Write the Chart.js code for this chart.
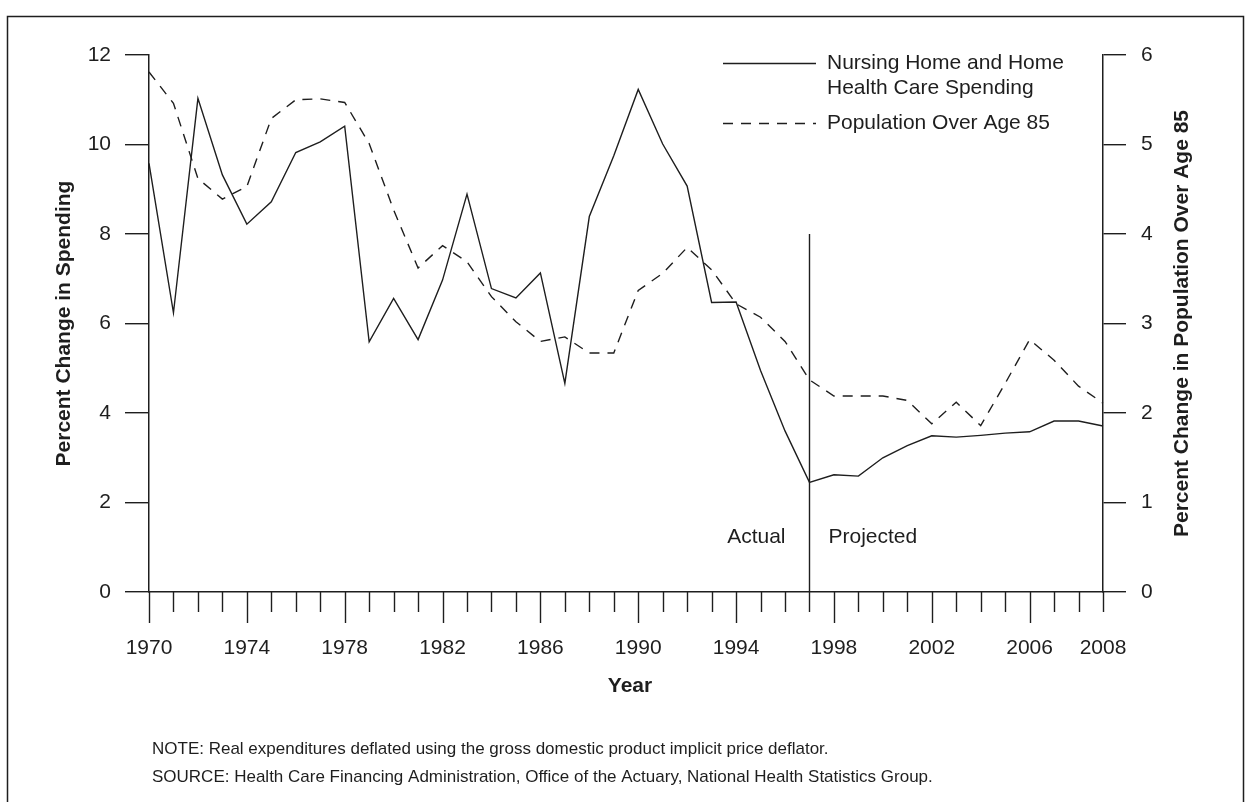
<!DOCTYPE html>
<html>
<head>
<meta charset="utf-8">
<script src="https://cdn.jsdelivr.net/npm/chart.js@4.4.1/dist/chart.umd.min.js"></script>
<style>
  html, body { margin: 0; padding: 0; background: #fff; }
  canvas { display: block; }
</style>
</head>
<body>
<canvas id="chart" width="1250" height="802"></canvas>
<script>
// x axis: one slot per year, only some are labelled (last slot is labelled 2008 in the original)
const tickLabels = ['1970', '', '', '', '1974', '', '', '', '1978', '', '', '', '1982', '', '', '', '1986', '', '', '',
  '1990', '', '', '', '1994', '', '', '', '1998', '', '', '', '2002', '', '', '', '2006', '', '', '2008'];

// percent change in real nursing home + home health spending (left axis)
const spending = [9.58, 6.24, 11.03, 9.32, 8.22, 8.72, 9.82, 10.06, 10.41, 5.59,
  6.56, 5.64, 6.97, 8.89, 6.78, 6.57, 7.13, 4.66, 8.39, 9.75,
  11.23, 10.01, 9.07, 6.47, 6.48, 4.95, 3.6, 2.45, 2.62, 2.59,
  3.0, 3.27, 3.49, 3.46, 3.5, 3.55, 3.58, 3.82, 3.82, 3.71];

// percent change in population over age 85 (right axis)
const population = [5.81, 5.46, 4.62, 4.39, 4.53, 5.29, 5.50, 5.51, 5.47, 5.01,
  4.27, 3.62, 3.87, 3.69, 3.30, 3.02, 2.80, 2.85, 2.67, 2.67,
  3.37, 3.56, 3.85, 3.60, 3.22, 3.07, 2.80, 2.37, 2.19, 2.19,
  2.19, 2.14, 1.88, 2.12, 1.86, 2.33, 2.82, 2.59, 2.30, 2.11];

const seriesNames = ['Nursing Home and Home|Health Care Spending', 'Population Over Age 85'];

// actual / projected split
const firstYear = 1970;
const dividerYear = 1997;
const dividerTop = 8;

const INK = '#1e1e1e';
const FONT = '"Liberation Sans", Arial, Helvetica, sans-serif';

// draws the things Chart.js doesn't do out of the box (mixed tick lengths, legend, titles, notes)
const extras = {
  id: 'extras',
  afterDraw(chart) {
    const ctx = chart.ctx;
    const xs = chart.scales.x;
    const ys = chart.scales.y;
    const area = chart.chartArea;
    ctx.save();
    ctx.strokeStyle = INK;
    ctx.fillStyle = INK;
    ctx.lineWidth = 1.4;

    // x ticks, long every 4 years
    tickLabels.forEach((lab, i) => {
      const px = Math.round(xs.getPixelForValue(i)) + 0.5;
      const len = (i % 4 === 0) ? 31 : 20;
      ctx.beginPath();
      ctx.moveTo(px, area.bottom);
      ctx.lineTo(px, area.bottom + len);
      ctx.stroke();
    });

    // divider line between actual and projected
    const dx = Math.round(xs.getPixelForValue(dividerYear - firstYear)) + 0.5;
    ctx.beginPath();
    ctx.moveTo(dx, ys.getPixelForValue(0));
    ctx.lineTo(dx, ys.getPixelForValue(dividerTop));
    ctx.stroke();

    ctx.font = '21px ' + FONT;
    ctx.textBaseline = 'middle';
    ctx.textAlign = 'right';
    ctx.fillText('Actual', dx - 24, 537);
    ctx.textAlign = 'left';
    ctx.fillText('Projected', dx + 19, 537);

    // legend
    ctx.beginPath();
    ctx.moveTo(723, 63.5);
    ctx.lineTo(816, 63.5);
    ctx.stroke();
    ctx.setLineDash([10, 8]);
    ctx.beginPath();
    ctx.moveTo(723, 123.5);
    ctx.lineTo(816, 123.5);
    ctx.stroke();
    ctx.setLineDash([]);
    const lines = seriesNames[0].split('|');
    ctx.fillText(lines[0], 827, 63);
    ctx.fillText(lines[1], 827, 88);
    ctx.fillText(seriesNames[1], 827, 123);

    // axis titles
    const cy = (area.top + area.bottom) / 2;
    ctx.font = 'bold 21px ' + FONT;
    ctx.textAlign = 'center';
    ctx.textBaseline = 'alphabetic';
    ctx.save();
    ctx.translate(70, cy);
    ctx.rotate(-Math.PI / 2);
    ctx.fillText('Percent Change in Spending', 0, 0);
    ctx.restore();
    ctx.save();
    ctx.translate(1188, cy);
    ctx.rotate(-Math.PI / 2);
    ctx.fillText('Percent Change in Population Over Age 85', 0, 0);
    ctx.restore();
    ctx.fillText('Year', 630, 692);

    // notes
    ctx.font = '17px ' + FONT;
    ctx.textAlign = 'left';
    ctx.fillText('NOTE: Real expenditures deflated using the gross domestic product implicit price deflator.', 152, 754);
    ctx.fillText('SOURCE: Health Care Financing Administration, Office of the Actuary, National Health Statistics Group.', 152, 782);

    // frame
    ctx.lineWidth = 1.5;
    ctx.beginPath();
    ctx.moveTo(7.5, 802);
    ctx.lineTo(7.5, 16.5);
    ctx.lineTo(1243.5, 16.5);
    ctx.lineTo(1243.5, 802);
    ctx.stroke();
    ctx.restore();
  }
};

const axisFont = { family: FONT, size: 21 };

new Chart(document.getElementById('chart'), {
  type: 'line',
  data: {
    labels: tickLabels,
    datasets: [{
      label: 'Nursing Home and Home Health Care Spending',
      data: spending,
      yAxisID: 'y',
      borderColor: INK,
      borderWidth: 1.4,
      pointRadius: 0,
      tension: 0
    }, {
      label: 'Population Over Age 85',
      data: population,
      yAxisID: 'y2',
      borderColor: INK,
      borderWidth: 1.4,
      borderDash: [10, 8],
      pointRadius: 0,
      tension: 0
    }]
  },
  options: {
    responsive: false,
    animation: false,
    devicePixelRatio: 1,
    layout: { padding: { top: 55, left: 0, right: 0, bottom: 0 } },
    plugins: {
      legend: { display: false },
      tooltip: { enabled: false }
    },
    scales: {
      x: {
        type: 'category',
        offset: false,
        grid: { display: false },
        border: { display: true, color: INK, width: 1.5 },
        ticks: { autoSkip: false, maxRotation: 0, color: INK, font: axisFont, padding: 36 },
        afterFit: s => { s.height = 210; }
      },
      y: {
        position: 'left',
        min: 0,
        max: 12,
        ticks: { stepSize: 2, color: INK, font: axisFont, padding: 14 },
        grid: { drawOnChartArea: false, tickLength: 24, color: INK, lineWidth: 1.4 },
        border: { display: true, color: INK, width: 1.5 },
        afterFit: s => { s.width = 149; }
      },
      y2: {
        position: 'right',
        min: 0,
        max: 6,
        ticks: { stepSize: 1, color: INK, font: axisFont, padding: 15 },
        grid: { drawOnChartArea: false, tickLength: 23, color: INK, lineWidth: 1.4 },
        border: { display: true, color: INK, width: 1.5 },
        afterFit: s => { s.width = 147; }
      }
    }
  },
  plugins: [extras]
});
</script>
</body>
</html>
